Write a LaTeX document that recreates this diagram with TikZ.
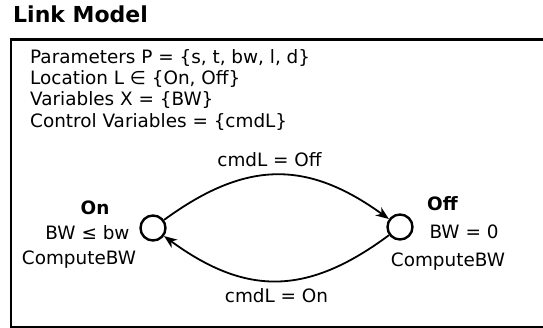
\documentclass[tikz,border=0pt]{standalone}
\usepackage{fontspec}
\setmainfont{DejaVu Sans}
\usetikzlibrary{arrows.meta}

\begin{document}
\begin{tikzpicture}[x=1pt,y=-1pt,
  txt/.style={inner sep=0pt, anchor=base, font=\fontsize{18.4}{21}\selectfont},
  txtl/.style={txt, anchor=base west},
  loc/.style={circle, draw, line width=2.4pt, minimum size=25pt, inner sep=0pt},
  trans/.style={line width=1.8pt, -{Stealth[length=13pt, width=10pt, inset=4pt]}},
  frame/.style={line width=2.2pt}
]
  \useasboundingbox (0,0) rectangle (543,328);
  \clip (0,0) rectangle (543,328);

  % title
  \node[txtl, font=\fontsize{22}{26}\selectfont\bfseries] (title) at (13,23) {Link Model};

  % frame (right side runs off the page)
  \draw[frame] (11,39.5) rectangle (560,327.5);

  % declarations
  \node[txtl] (params) at (30,63.3) {Parameters P = \{s, t, bw, l, d\}};
  \node[txtl] (locs)   at (30,84.6) {Location L ∈ \{On, Off\}};
  \node[txtl] (vars)   at (30,105.9) {Variables X = \{BW\}};
  \node[txtl] (ctrl)   at (30,127.2) {Control Variables = \{cmdL\}};

  % locations
  \node[loc] (on)  at (153,228) {};
  \node[loc] (off) at (400,227) {};

  \node[txt, font=\fontsize{18.4}{21}\selectfont\bfseries] (onname) at (95,215) {On};
  \node[txt] (oninv) at (87.5,240) {BW ≤ bw};
  \node[txt] (onflow) at (79,265) {ComputeBW};

  \node[txt, font=\fontsize{18.4}{21}\selectfont\bfseries] (offname) at (442.5,211) {Off};
  \node[txt] (offinv) at (464,239) {BW = 0};
  \node[txt] (offflow) at (448,267) {ComputeBW};

  % transitions
  \draw[trans] (on) .. controls (246,160) and (307,160) .. (off);
  \draw[trans] (off) .. controls (307,296) and (246,296) .. (on);

  \node[txt] (gOff) at (269.5,167) {cmdL = Off};
  \node[txt] (gOn)  at (276.5,303) {cmdL = On};
\end{tikzpicture}
\end{document}
